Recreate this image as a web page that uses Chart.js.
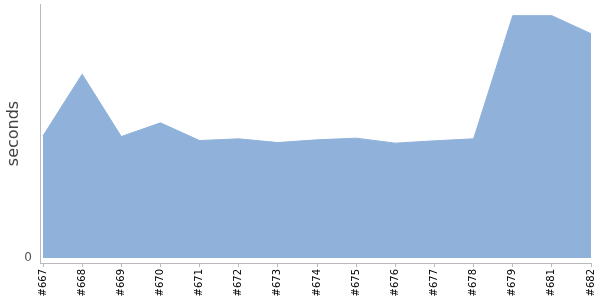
<!DOCTYPE html>
<html>
<head>
<meta charset="utf-8">
<script src="https://cdn.jsdelivr.net/npm/chart.js@4/dist/chart.umd.min.js"></script>
<style>
html,body{margin:0;padding:0;background:#fff;}
#wrap{width:600px;height:300px;}
</style>
</head>
<body>
<div id="wrap"><canvas id="c" width="600" height="300"></canvas></div>
<script>
const categories = ["#667","#668","#669","#670","#671","#672","#673","#674","#675","#676","#677","#678","#679","#681","#682"];
const seconds = [122.3,184,121.6,135.3,117.6,119.3,115.6,118.3,120,115,117.3,119.3,242.6,242.6,224.6];
const yTicks = [0];

const points = seconds.map((v,i)=>({x:i,y:v}));

function noPad(s){ s.paddingTop = 0; s.paddingBottom = 0; s.paddingLeft = 0; s.paddingRight = 0; }

new Chart(document.getElementById('c'), {
  type: 'line',
  data: {
    datasets: [{
      data: points,
      fill: 'origin',
      backgroundColor: '#8FB1DA',
      borderColor: '#8FB1DA',
      borderWidth: 1,
      pointRadius: 0,
      tension: 0
    }]
  },
  options: {
    responsive: false,
    animation: false,
    events: [],
    layout: { padding: { top: 4, right: 9, left: 0, bottom: 0 } },
    plugins: { legend: { display: false }, tooltip: { enabled: false } },
    scales: {
      x: {
        type: 'linear',
        min: -0.077,
        max: categories.length - 1,
        afterBuildTicks: (s) => { s.ticks = categories.map((c,i)=>({value:i})); },
        afterFit: (s) => { s.height = 37; noPad(s); },
        border: { display: true, color: '#bbbbbb', width: 1 },
        grid: { display: true, drawOnChartArea: false, drawTicks: true, tickLength: 4, color: '#bbbbbb' },
        ticks: {
          autoSkip: false,
          minRotation: 90,
          maxRotation: 90,
          padding: 2,
          color: '#000',
          font: { family: 'DejaVu Sans', size: 10 },
          callback: (v) => categories[v]
        }
      },
      y: {
        min: -5,
        max: 254.3,
        afterBuildTicks: (s) => { s.ticks = yTicks.map(v=>({value:v})); },
        afterFit: (s) => { s.width = 40; noPad(s); },
        border: { display: true, color: '#bbbbbb', width: 1 },
        grid: { display: false, drawTicks: false },
        title: {
          display: true,
          text: 'seconds',
          color: '#444',
          font: { family: 'DejaVu Sans', size: 16 },
          padding: { top: 4, bottom: 4 }
        },
        ticks: {
          padding: 8,
          color: '#555',
          font: { family: 'DejaVu Sans', size: 12 },
          callback: (v) => String(v)
        }
      }
    }
  }
});
</script>
</body>
</html>
